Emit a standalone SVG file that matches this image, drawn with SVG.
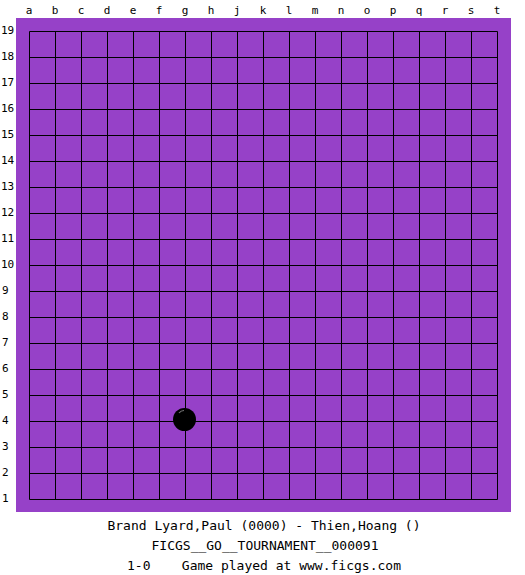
<svg xmlns="http://www.w3.org/2000/svg" width="525" height="575" viewBox="0 0 525 575">
<style>
.lbl{font-family:"DejaVu Sans Mono","Liberation Mono",monospace;font-size:11px;fill:#000}
.info{font-family:"DejaVu Sans Mono","Liberation Mono",monospace;font-size:13px;fill:#000;text-anchor:middle}
.grid line{stroke:#000;stroke-width:1}
</style>
<rect x="0" y="0" width="525" height="575" fill="#fff"/>
<rect id="board" x="16" y="18" width="495" height="494" fill="#9641c8"/>
<g class="grid" id="grid">
<line x1="29.5" y1="31.5" x2="29.5" y2="499.5"/><line x1="55.5" y1="31.5" x2="55.5" y2="499.5"/><line x1="81.5" y1="31.5" x2="81.5" y2="499.5"/><line x1="107.5" y1="31.5" x2="107.5" y2="499.5"/><line x1="133.5" y1="31.5" x2="133.5" y2="499.5"/><line x1="159.5" y1="31.5" x2="159.5" y2="499.5"/><line x1="185.5" y1="31.5" x2="185.5" y2="499.5"/><line x1="211.5" y1="31.5" x2="211.5" y2="499.5"/><line x1="237.5" y1="31.5" x2="237.5" y2="499.5"/><line x1="263.5" y1="31.5" x2="263.5" y2="499.5"/><line x1="289.5" y1="31.5" x2="289.5" y2="499.5"/><line x1="315.5" y1="31.5" x2="315.5" y2="499.5"/><line x1="341.5" y1="31.5" x2="341.5" y2="499.5"/><line x1="367.5" y1="31.5" x2="367.5" y2="499.5"/><line x1="393.5" y1="31.5" x2="393.5" y2="499.5"/><line x1="419.5" y1="31.5" x2="419.5" y2="499.5"/><line x1="445.5" y1="31.5" x2="445.5" y2="499.5"/><line x1="471.5" y1="31.5" x2="471.5" y2="499.5"/><line x1="497.5" y1="31.5" x2="497.5" y2="499.5"/>
<line x1="29.5" y1="31.5" x2="497.5" y2="31.5"/><line x1="29.5" y1="57.5" x2="497.5" y2="57.5"/><line x1="29.5" y1="83.5" x2="497.5" y2="83.5"/><line x1="29.5" y1="109.5" x2="497.5" y2="109.5"/><line x1="29.5" y1="135.5" x2="497.5" y2="135.5"/><line x1="29.5" y1="161.5" x2="497.5" y2="161.5"/><line x1="29.5" y1="187.5" x2="497.5" y2="187.5"/><line x1="29.5" y1="213.5" x2="497.5" y2="213.5"/><line x1="29.5" y1="239.5" x2="497.5" y2="239.5"/><line x1="29.5" y1="265.5" x2="497.5" y2="265.5"/><line x1="29.5" y1="291.5" x2="497.5" y2="291.5"/><line x1="29.5" y1="317.5" x2="497.5" y2="317.5"/><line x1="29.5" y1="343.5" x2="497.5" y2="343.5"/><line x1="29.5" y1="369.5" x2="497.5" y2="369.5"/><line x1="29.5" y1="395.5" x2="497.5" y2="395.5"/><line x1="29.5" y1="421.5" x2="497.5" y2="421.5"/><line x1="29.5" y1="447.5" x2="497.5" y2="447.5"/><line x1="29.5" y1="473.5" x2="497.5" y2="473.5"/><line x1="29.5" y1="499.5" x2="497.5" y2="499.5"/>
</g>
<g id="col-labels" class="lbl" text-anchor="middle">
<text x="29" y="14">a</text><text x="55" y="14">b</text><text x="81" y="14">c</text><text x="107" y="14">d</text><text x="133" y="14">e</text><text x="159" y="14">f</text><text x="185" y="14">g</text><text x="211" y="14">h</text><text x="237" y="14">j</text><text x="263" y="14">k</text><text x="289" y="14">l</text><text x="315" y="14">m</text><text x="341" y="14">n</text><text x="367" y="14">o</text><text x="393" y="14">p</text><text x="419" y="14">q</text><text x="445" y="14">r</text><text x="471" y="14">s</text><text x="497" y="14">t</text>
</g>
<g id="row-labels" class="lbl">
<text x="1" y="34">19</text><text x="1" y="60">18</text><text x="1" y="86">17</text><text x="1" y="112">16</text><text x="1" y="138">15</text><text x="1" y="164">14</text><text x="1" y="190">13</text><text x="1" y="216">12</text><text x="1" y="242">11</text><text x="1" y="268">10</text><text x="2" y="294">9</text><text x="2" y="320">8</text><text x="2" y="346">7</text><text x="2" y="372">6</text><text x="2" y="398">5</text><text x="2" y="424">4</text><text x="2" y="450">3</text><text x="2" y="476">2</text><text x="2" y="502">1</text>
</g>
<g id="stone-g4">
<circle cx="184.5" cy="419.5" r="11.5" fill="#000"/>
<path d="M179 413 Q181 410.5 184 410.5" fill="none" stroke="#777" stroke-width="1.2"/>
</g>
<g id="info">
<text class="info" x="264" y="530">Brand Lyard,Paul (0000) - Thien,Hoang ()</text>
<text class="info" x="265" y="550">FICGS__GO__TOURNAMENT__000091</text>
<text class="info" x="264" y="570" xml:space="preserve">1-0    Game played at www.ficgs.com</text>
</g>
</svg>
